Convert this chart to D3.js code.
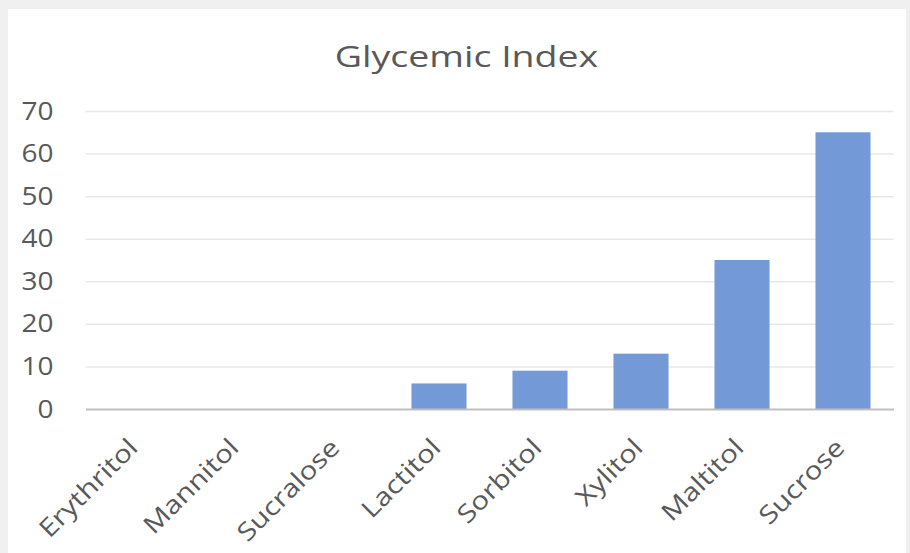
<!DOCTYPE html>
<html>
<head>
<meta charset="utf-8">
<script src="https://cdn.jsdelivr.net/npm/d3@7"></script>
<style>
  html, body { margin: 0; padding: 0; background: #f0f0f0; }
  svg { display: block; }
</style>
</head>
<body>
<svg id="chart" width="910" height="553"></svg>
<script>
const categories = ["Erythritol", "Mannitol", "Sucralose", "Lactitol", "Sorbitol", "Xylitol", "Maltitol", "Sucrose"];
const glycemicIndex = [0, 0, 0, 6, 9, 13, 35, 65];
const yTicks = [0, 10, 20, 30, 40, 50, 60, 70];
const chartTitle = "Glycemic Index";

const W = 910, H = 553;
const svg = d3.select("#chart");
const FONT = "'Open Sans', sans-serif";
const TEXT = "#595959";

// background panel
svg.append("rect").attr("x", 0).attr("y", 0).attr("width", W).attr("height", H).attr("fill", "#f0f0f0");
svg.append("rect").attr("x", 8).attr("y", 9).attr("width", 898).attr("height", H - 9).attr("fill", "#ffffff");

const margin = { left: 85.5, right: W - 893.5, top: 111, bottom: H - 409 };

const x = d3.scaleBand().domain(categories).range([margin.left, W - margin.right]).paddingInner(0.455).paddingOuter(0.2275);
const y = d3.scaleLinear().domain([0, 70]).range([409, 111]);

// gridlines
const grid = svg.append("g")
  .attr("transform", `translate(${margin.left},0)`)
  .call(d3.axisLeft(y).tickValues(yTicks.filter(d => d !== 0)).tickSize(-(W - margin.right - margin.left)).tickFormat(""));
grid.select(".domain").remove();
grid.selectAll(".tick line").attr("stroke", "#e8e8e8").attr("stroke-width", 1.5);

// y labels
const yAxis = svg.append("g")
  .attr("transform", `translate(${margin.left},0)`)
  .call(d3.axisLeft(y).tickValues(yTicks).tickSize(0));
yAxis.select(".domain").remove();
yAxis.selectAll("text")
  .attr("x", 0)
  .attr("transform", "translate(-32,0) scale(1.12,1)")
  .attr("font-family", FONT).attr("font-size", 25).attr("fill", TEXT);

// bars
svg.append("g").selectAll("rect")
  .data(categories.map((c, i) => ({ c, v: glycemicIndex[i] })))
  .join("rect")
  .attr("x", d => x(d.c))
  .attr("y", d => y(d.v))
  .attr("width", x.bandwidth())
  .attr("height", d => y(0) - y(d.v))
  .attr("fill", "#7399d6");

// x axis
const xAxis = svg.append("g")
  .attr("transform", `translate(0,${y(0)})`)
  .call(d3.axisBottom(x).tickSize(0).tickPadding(0));
xAxis.select(".domain").attr("stroke", "#bfbfbf").attr("stroke-width", 2);
xAxis.selectAll(".tick text")
  .attr("y", 0)
  .attr("font-family", FONT).attr("font-size", 25).attr("fill", TEXT)
  .attr("text-anchor", "end")
  .attr("dy", "0.35em")
  .attr("transform", "translate(-3,34) rotate(-45) scale(1.18,1)");

// title
svg.append("g")
  .attr("transform", "translate(466.5,67) scale(1.25,1)")
  .append("text")
  .attr("x", 0).attr("y", 0)
  .attr("text-anchor", "middle")
  .attr("font-family", FONT).attr("font-size", 30).attr("fill", TEXT)
  .text(chartTitle);
</script>
</body>
</html>
